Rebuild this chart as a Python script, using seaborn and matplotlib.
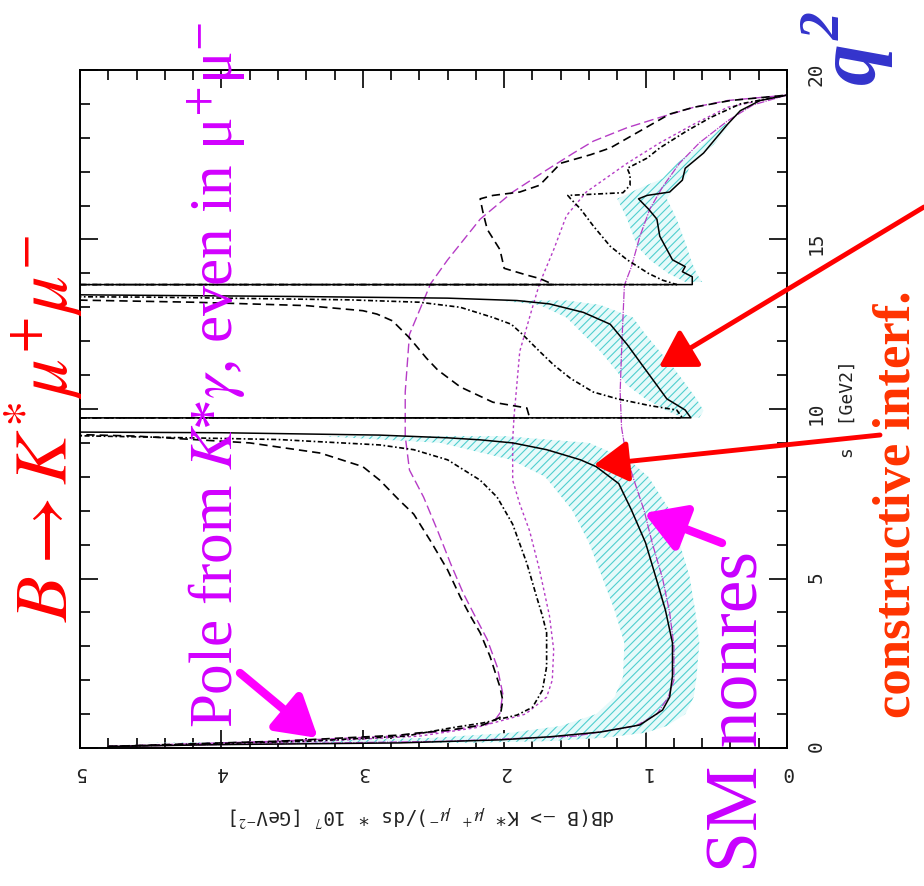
import matplotlib
matplotlib.use("Agg")
import numpy as np
import pandas as pd
import matplotlib.pyplot as plt
import seaborn as sns

# s = q^2 in GeV^2 (vertical axis), v = dB/ds * 10^7 (horizontal axis, reversed)

# SM with resonances (solid black)
sm_s = [0.045, 0.10, 0.15, 0.24, 0.33, 0.47, 0.68, 1.12, 1.5, 2.12, 3.1, 4.07, 5.07, 6.05, 7.02, 7.8, 8.3, 8.5, 8.8, 9.0,
        9.09, 9.15, 9.23, 9.3, 9.45, 9.72,
        9.74, 9.97, 10.3, 11.1, 11.9, 12.5, 12.85, 13.1, 13.2, 13.27, 13.32, 13.4, 13.55, 13.66,
        13.67, 13.9, 14.05, 14.2, 14.4, 15.1, 15.6, 15.9, 16.2, 16.3, 16.4, 16.75, 17.1, 17.55, 17.9, 18.4, 18.8, 19.1, 19.26]
sm_v = [4.8, 4.0, 2.74, 2.03, 1.68, 1.32, 1.04, 0.88, 0.83, 0.81, 0.81, 0.86, 0.93, 1.0, 1.1, 1.19, 1.35, 1.46, 1.7, 1.94,
        2.17, 2.4, 2.88, 4.0, 12, 60,
        0.68, 0.72, 0.85, 0.99, 1.13, 1.25, 1.44, 1.68, 1.91, 2.4, 3.5, 6, 15, 60,
        0.67, 0.67, 0.74, 0.72, 0.81, 0.9, 0.92, 0.98, 1.05, 0.99, 0.83, 0.74, 0.72, 0.59, 0.52, 0.42, 0.33, 0.19, 0.0]

# model 2 with resonances (black dash-dot)
dd_s = [0.045, 0.10, 0.20, 0.35, 0.59, 0.74, 0.97, 1.2, 1.7, 2.4, 3.4, 3.9, 4.45, 5.45, 6.6, 7.4, 7.9, 8.5, 8.8, 8.94,
        9.1, 9.25, 9.45, 9.72,
        9.74, 9.97, 10.1, 10.3, 10.5, 10.9, 11.3, 11.7, 12.2, 12.5, 12.7, 13.0, 13.15, 13.22, 13.3, 13.45, 13.66,
        13.67, 13.8, 14.0, 14.4, 14.8, 15.4, 15.9, 16.2, 16.3, 16.38, 16.6, 16.9, 17.1, 17.4, 17.7, 18.2, 18.6, 19.0, 19.26]
dd_v = [4.8, 4.3, 3.4, 2.7, 2.38, 2.15, 1.91, 1.8, 1.73, 1.70, 1.70, 1.73, 1.77, 1.84, 1.94, 2.05, 2.17, 2.4, 2.64, 2.88,
        3.6, 5.5, 14, 60,
        0.74, 0.78, 0.97, 1.2, 1.37, 1.53, 1.65, 1.75, 1.87, 1.95, 2.08, 2.31, 2.6, 3.1, 4.5, 12, 60,
        0.78, 0.88, 0.98, 1.13, 1.25, 1.37, 1.46, 1.53, 1.55, 1.16, 1.11, 1.11, 1.13, 0.99, 0.9, 0.71, 0.54, 0.33, 0.0]

# model 3 with resonances (black dashed)
da_s = [0.045, 0.10, 0.20, 0.38, 0.44, 0.53, 0.68, 0.9, 1.4, 1.8, 2.7, 3.4, 3.9, 4.45, 5.25, 6.1, 6.9, 7.3, 7.9, 8.3,
        8.7, 9.0, 9.2, 9.3, 9.45, 9.72,
        9.74, 10.03, 10.2, 10.65, 11.15, 11.5, 12.1, 12.6, 12.8, 12.9, 13.05, 13.15, 13.25, 13.45, 13.66,
        13.67, 13.85, 13.95, 14.15, 14.7, 15.3, 15.8, 16.2, 16.3, 16.4, 16.6, 17.25, 17.5, 17.7, 18.2, 18.7, 18.9, 19.1, 19.26]
da_v = [4.8, 4.4, 3.6, 2.74, 2.62, 2.38, 2.15, 2.03, 2.01, 2.03, 2.1, 2.17, 2.24, 2.31, 2.4, 2.52, 2.64, 2.74, 2.88, 3.0,
        3.3, 3.8, 4.6, 5.5, 14, 60,
        1.82, 1.84, 2.08, 2.31, 2.47, 2.55, 2.67, 2.79, 2.9, 3.0, 3.4, 4.2, 5.5, 14, 60,
        1.65, 1.75, 1.84, 2.0, 2.03, 2.12, 2.15, 2.17, 2.08, 1.89, 1.75, 1.6, 1.39, 1.25, 1.04, 0.83, 0.66, 0.4, 0.0]

# nonresonant curves (magenta)
ms_s = [0.045, 0.1, 0.2, 0.35, 0.65, 1.0, 1.5, 2.0, 3.0, 4.0, 5.0, 6.0, 7.0, 8.0, 8.7, 9.45, 10.5, 11.7, 12.7, 13.65,
        14.2, 15.1, 15.9, 16.55, 17.25, 17.85, 18.5, 18.97, 19.26]
ms_v = [4.8, 4.0, 2.4, 1.5, 1.07, 0.92, 0.84, 0.80, 0.80, 0.83, 0.88, 0.95, 1.01, 1.09, 1.14, 1.17, 1.18, 1.17, 1.16, 1.15,
        1.1, 1.04, 0.97, 0.88, 0.76, 0.62, 0.42, 0.24, 0.0]

md_s = [0.045, 0.1, 0.2, 0.35, 0.6, 1.0, 1.5, 2.0, 2.9, 3.9, 5.25, 6.4, 7.2, 7.9, 9.1, 9.8, 11.7, 13.0, 13.7, 14.7,
        15.7, 16.4, 17.25, 17.85, 18.4, 18.9, 19.26]
md_v = [4.8, 4.3, 3.3, 2.6, 2.2, 1.85, 1.70, 1.66, 1.65, 1.68, 1.75, 1.82, 1.89, 1.94, 1.94, 1.93, 1.89, 1.8, 1.75, 1.65,
        1.56, 1.42, 1.13, 0.9, 0.66, 0.42, 0.0]

mda_s = [0.045, 0.1, 0.2, 0.35, 0.5, 0.74, 1.03, 1.6, 2.4, 3.2, 4.0, 4.57, 5.45, 6.4, 7.4, 8.2, 9.2, 10.5, 12.2, 13.7,
         14.4, 15.6, 16.4, 17.05, 17.55, 17.9, 18.3, 18.6, 18.9, 19.1, 19.26]
mda_v = [4.8, 4.4, 3.6, 2.8, 2.4, 2.08, 2.03, 2.01, 2.05, 2.12, 2.22, 2.29, 2.38, 2.47, 2.57, 2.67, 2.70, 2.70, 2.67, 2.52,
         2.4, 2.17, 1.94, 1.7, 1.51, 1.37, 1.13, 0.9, 0.66, 0.42, 0.0]

# SM uncertainty band (hatched)
band1_s = [0.15, 0.2, 0.3, 0.45, 0.65, 1.0, 1.5, 2.1, 3.1, 4.07, 5.07, 6.05, 7.02, 8.0, 8.5, 9.0, 9.2]
band1_hi = [4.6, 3.4, 2.5, 1.95, 1.6, 1.35, 1.22, 1.16, 1.15, 1.22, 1.31, 1.4, 1.52, 1.71, 1.95, 2.45, 3.3]
band1_lo = [2.3, 1.7, 1.3, 1.0, 0.85, 0.72, 0.66, 0.64, 0.62, 0.65, 0.69, 0.76, 0.83, 0.98, 1.12, 1.4, 2.0]
band2_s = [9.75, 9.95, 10.3, 10.7, 11.2, 11.7, 12.2, 12.7, 13.07, 13.2]
band2_hi = [0.74, 0.85, 1.0, 1.13, 1.22, 1.32, 1.44, 1.56, 1.75, 2.03]
band2_lo = [0.62, 0.59, 0.64, 0.71, 0.8, 0.9, 1.0, 1.09, 1.32, 1.56]
band3_s = [13.75, 14.0, 14.4, 14.8, 15.6, 16.2, 16.5, 16.8, 17.25, 17.8, 18.4]
band3_hi = [0.72, 0.84, 0.97, 1.06, 1.13, 1.2, 1.05, 0.88, 0.78, 0.6, 0.44]
band3_lo = [0.6, 0.64, 0.68, 0.71, 0.78, 0.85, 0.8, 0.72, 0.68, 0.52, 0.40]

x_ticks = [0, 1, 2, 3, 4, 5]
s_ticks = [0, 5, 10, 15, 20]

W, H = 924, 886
sns.set_style("white")
plt.rcParams["mathtext.fontset"] = "stix"
plt.rcParams["hatch.linewidth"] = 0.8
plt.rcParams["hatch.color"] = "#4fcfcf"

fig = plt.figure(figsize=(W / 100, H / 100), dpi=100)
ax = fig.add_axes([80 / W, 1 - 748 / H, (787 - 80) / W, (748 - 70) / H])


def px(x, y):
    return (x / W, 1 - y / H)


for bs, blo, bhi in [(band1_s, band1_lo, band1_hi), (band2_s, band2_lo, band2_hi), (band3_s, band3_lo, band3_hi)]:
    ax.fill_betweenx(bs, blo, bhi, facecolor="#e6fafa", edgecolor="#4fcfcf", hatch="////", linewidth=0)

mag = "#b63cc6"
curves = [
    (ms_s, ms_v, mag, (0, (6, 1, 1, 1)), 0.9),
    (md_s, md_v, mag, (0, (2, 2)), 1.0),
    (mda_s, mda_v, mag, (0, (7, 3)), 1.0),
    (sm_s, sm_v, "black", "-", 1.1),
    (dd_s, dd_v, "black", (0, (3, 1.5, 1, 1.5)), 1.2),
    (da_s, da_v, "black", (0, (5, 3)), 1.2),
]
for cs, cv, col, ls, lw in curves:
    df = pd.DataFrame({"s": cs, "v": cv})
    sns.lineplot(data=df, x="v", y="s", orient="y", sort=False, estimator=None,
                 color=col, linestyle=ls, linewidth=lw, ax=ax)

ax.set_xlim(5, 0)
ax.set_ylim(0, 20)
ax.set_xlabel("")
ax.set_ylabel("")
ax.set_xticks(x_ticks)
ax.set_xticks(np.arange(0, 5.01, 0.2), minor=True)
ax.set_yticks(s_ticks)
ax.set_yticks(np.arange(0, 20.01, 1), minor=True)
ax.tick_params(which="both", direction="in", top=True, bottom=True, left=True, right=True,
               labelleft=False, labelright=True, labeltop=False, labelbottom=True, width=1.2, color="black")
ax.tick_params(which="major", length=13)
ax.tick_params(which="minor", length=7)
ax.tick_params(axis="x", which="major", labelrotation=180, pad=11, labelsize=14)
ax.tick_params(axis="y", which="major", labelrotation=90, pad=14, labelsize=14)
for lab in ax.get_xticklabels() + ax.get_yticklabels():
    lab.set_family("DejaVu Sans Mono")
    lab.set_color("#222222")
for sp in ax.spines.values():
    sp.set_linewidth(1.4)
    sp.set_color("black")

fig.text(*px(422, 815), r"dB(B $-$> K* $\mu^{+}$ $\mu^{-}$)/ds * 10$^{7}$ [GeV$^{-2}$]", rotation=180,
         ha="center", va="center", fontsize=14, family="DejaVu Sans Mono", color="#222222")
fig.text(*px(848, 409), "s  [GeV2]", rotation=90, ha="center", va="center", fontsize=13,
         family="DejaVu Sans Mono", color="#222222")

fig.text(*px(68, 622), r"$B\rightarrow K^{*}\mu^{+}\mu^{-}$", rotation=90, rotation_mode="anchor",
         ha="left", va="baseline", fontsize=54, color="#ff0000")
fig.text(*px(233, 728), r"Pole from $K$*$\gamma$, even in μ$^{+}$μ$^{-}$", rotation=90, rotation_mode="anchor",
         ha="left", va="baseline", fontsize=44, color="#d200ff", family="Liberation Serif")
fig.text(*px(757, 872), "SM nonres", rotation=90, rotation_mode="anchor",
         ha="left", va="baseline", fontsize=53, color="#c800ff", family="Liberation Serif")
fig.text(*px(910, 718), "constructive interf.", rotation=90, rotation_mode="anchor",
         ha="left", va="baseline", fontsize=38, color="#ff3300", family="Liberation Serif", weight="bold")
fig.text(*px(874, 84), "q", rotation=90, rotation_mode="anchor", ha="left", va="baseline",
         fontsize=60, color="#3333cc", family="Liberation Serif", weight="bold", style="italic")
fig.text(*px(840, 40), "2", rotation=90, rotation_mode="anchor", ha="left", va="baseline",
         fontsize=40, color="#3333cc", family="Liberation Serif", weight="bold", style="italic")

arrows = [
    ((240, 673), (318, 738), "#ff00ff", 6, 1.0, 0.6, 24),
    ((722, 543), (644, 513), "#ff00ff", 6, 1.0, 0.6, 24),
    ((880, 435), (594, 465), "#ff0000", 3.5, 1.0, 0.6, 21),
    ((924, 207), (659, 367), "#ff0000", 3.5, 1.0, 0.6, 22),
]
for tail, tip, col, lw, hl, hw, ms in arrows:
    fig.add_artist(matplotlib.patches.FancyArrowPatch(
        px(*tail), px(*tip), transform=fig.transFigure,
        arrowstyle=f"-|>,head_length={hl},head_width={hw}", mutation_scale=ms,
        color=col, linewidth=lw, shrinkA=0, shrinkB=0))

fig.savefig("out.png", dpi=100, facecolor="white")
